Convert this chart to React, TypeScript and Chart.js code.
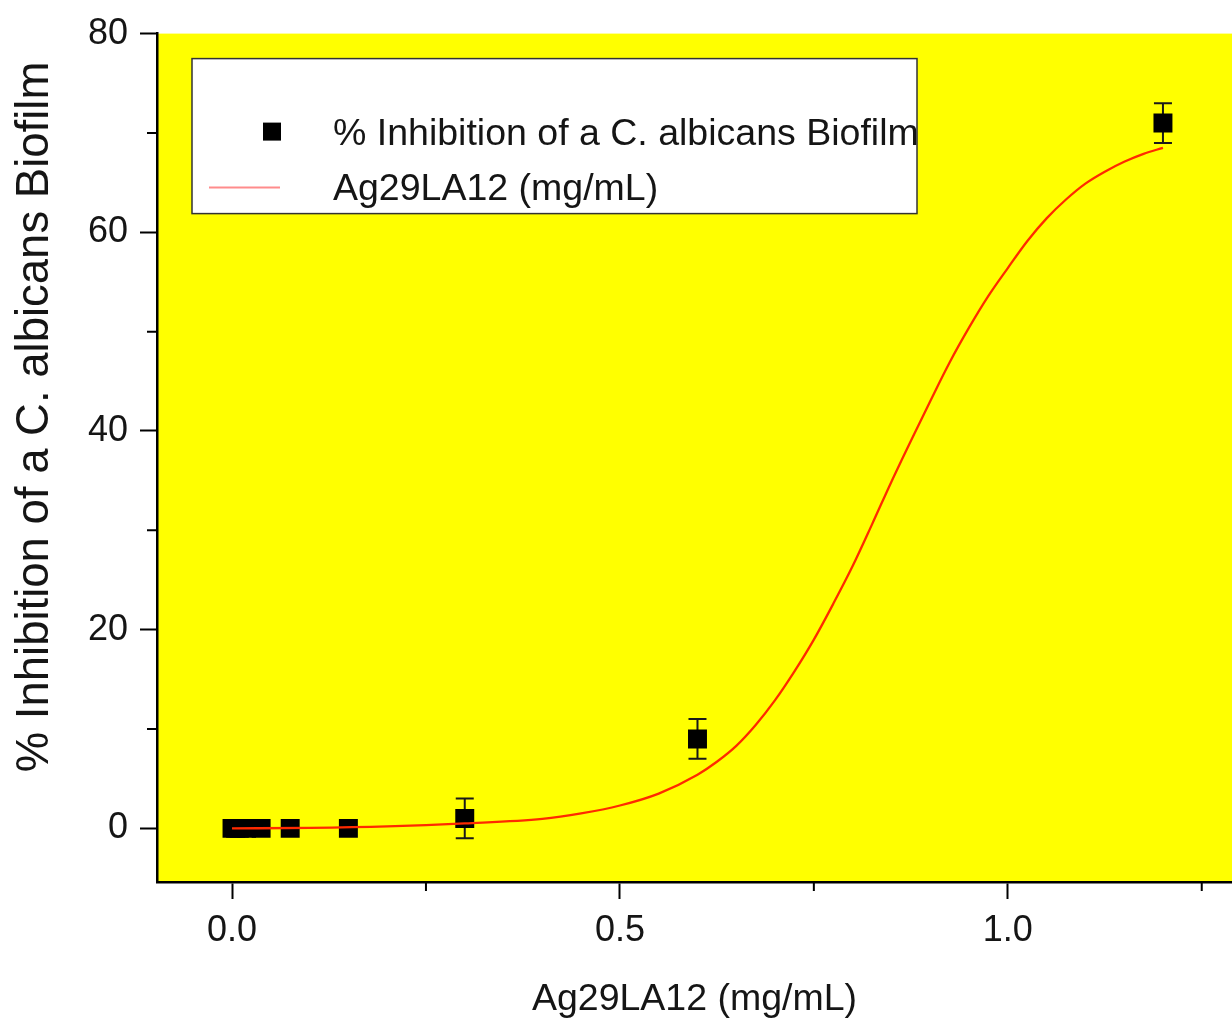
import React, { useEffect, useRef } from 'react';
import { Chart, registerables } from 'chart.js';

Chart.register(...registerables);

// ---- data ----
const concentrations = [0, 0.0046875, 0.009375, 0.01875, 0.0375, 0.075, 0.15, 0.3, 0.6, 1.2];
const inhibition = [0, 0, 0, 0, 0, 0, 0, 1, 9, 71];
const inhibitionError = [0, 0, 0, 0, 0, 0, 0, 2, 2, 2];

const fitX = [0, 0.1, 0.2, 0.3, 0.4, 0.45, 0.5, 0.55, 0.6, 0.625, 0.65, 0.675, 0.7, 0.725, 0.75, 0.775, 0.8, 0.825, 0.85, 0.875, 0.9, 0.925, 0.95, 0.975, 1.0, 1.025, 1.05, 1.075, 1.1, 1.125, 1.15, 1.175, 1.2];
const fitY = [0, 0.05, 0.2, 0.5, 0.95, 1.5, 2.3, 3.5, 5.4, 6.7, 8.3, 10.4, 12.9, 15.8, 19.0, 22.6, 26.4, 30.6, 34.9, 39.0, 43.0, 46.9, 50.4, 53.6, 56.4, 59.1, 61.4, 63.3, 64.9, 66.1, 67.1, 67.9, 68.5];

const scatterLabel = '% Inhibition of a C. albicans Biofilm';
const fitLabel = 'Ag29LA12 (mg/mL)';
const xTitle = 'Ag29LA12 (mg/mL)';
const yTitle = '% Inhibition of a C. albicans Biofilm';

const X_MIN = -0.0967;
const X_MAX = 1.289;
const X_STEP = 0.25;
const X_MAJOR = 0.5;
const Y_MIN = -5.4;
const Y_MAX = 80;
const Y_STEP = 10;
const Y_MAJOR = 20;

const FONT = "'Liberation Sans', Arial, Helvetica, sans-serif";
const TEXT = '#151515';

const isMajor = (v: number, m: number) => Math.abs(v / m - Math.round(v / m)) < 1e-6;

const backgroundPlugin = {
  id: 'yellowBg',
  beforeDraw(chart: any) {
    const { ctx, chartArea: a } = chart;
    ctx.save();
    ctx.fillStyle = '#ffff00';
    ctx.fillRect(a.left, a.top, a.right - a.left, a.bottom - a.top);
    ctx.restore();
  },
};

const errorBarPlugin = {
  id: 'errorBars',
  beforeDatasetsDraw(chart: any) {
    const { ctx } = chart;
    const xs = chart.scales.x;
    const ys = chart.scales.y;
    ctx.save();
    ctx.strokeStyle = '#1a1a1a';
    ctx.lineWidth = 2;
    concentrations.forEach((c, i) => {
      const e = inhibitionError[i];
      if (!e) return;
      const px = xs.getPixelForValue(c);
      const top = ys.getPixelForValue(inhibition[i] + e);
      const bot = ys.getPixelForValue(inhibition[i] - e);
      ctx.beginPath();
      ctx.moveTo(px, top);
      ctx.lineTo(px, bot);
      ctx.moveTo(px - 9, top);
      ctx.lineTo(px + 9, top);
      ctx.moveTo(px - 9, bot);
      ctx.lineTo(px + 9, bot);
      ctx.stroke();
    });
    ctx.restore();
  },
};

const minorTickPlugin = {
  id: 'minorTicks',
  afterDraw(chart: any) {
    const { ctx, chartArea: a } = chart;
    const xs = chart.scales.x;
    const ys = chart.scales.y;
    ctx.save();
    ctx.strokeStyle = '#000';
    ctx.lineWidth = 2;
    ctx.beginPath();
    xs.ticks.forEach((t: any) => {
      if (isMajor(t.value, X_MAJOR)) return;
      const px = xs.getPixelForValue(t.value);
      ctx.moveTo(px, a.bottom);
      ctx.lineTo(px, a.bottom + 9);
    });
    ys.ticks.forEach((t: any) => {
      if (isMajor(t.value, Y_MAJOR)) return;
      const py = ys.getPixelForValue(t.value);
      ctx.moveTo(a.left - 10, py);
      ctx.lineTo(a.left, py);
    });
    ctx.stroke();
    ctx.restore();
  },
};

const yTitlePlugin = {
  id: 'yTitle',
  afterDraw(chart: any) {
    const { ctx } = chart;
    ctx.save();
    ctx.translate(35, 417);
    ctx.rotate(-Math.PI / 2);
    ctx.font = `45.5px ${FONT}`;
    ctx.fillStyle = TEXT;
    ctx.textAlign = 'center';
    ctx.textBaseline = 'middle';
    ctx.fillText(yTitle, 0, 0);
    ctx.restore();
  },
};

const legendPlugin = {
  id: 'boxLegend',
  afterDraw(chart: any) {
    const { ctx, chartArea: a } = chart;
    const ds = chart.data.datasets;
    const left = a.left + 35;
    const top = a.top + 25;
    const w = 725;
    const h = 155;
    ctx.save();
    ctx.fillStyle = '#ffffff';
    ctx.fillRect(left, top, w, h);
    ctx.strokeStyle = '#333';
    ctx.lineWidth = 1.5;
    ctx.strokeRect(left, top, w, h);
    // scatter entry
    ctx.fillStyle = '#000';
    ctx.fillRect(left + 71, top + 64, 18, 18);
    ctx.font = `37.5px ${FONT}`;
    ctx.fillStyle = TEXT;
    ctx.textAlign = 'left';
    ctx.textBaseline = 'middle';
    ctx.fillText(ds[1].label, left + 141, top + 76);
    // line entry
    ctx.strokeStyle = '#ff8c8c';
    ctx.lineWidth = 2;
    ctx.beginPath();
    ctx.moveTo(left + 17, top + 129);
    ctx.lineTo(left + 88, top + 129);
    ctx.stroke();
    ctx.fillText(ds[0].label, left + 141, top + 131);
    ctx.restore();
  },
};

export default function App() {
  const canvasRef = useRef<HTMLCanvasElement | null>(null);

  useEffect(() => {
    if (!canvasRef.current) return;
    const chart = new Chart(canvasRef.current, {
      type: 'scatter',
      data: {
        datasets: [
          {
            type: 'line',
            label: fitLabel,
            data: fitX.map((x, i) => ({ x, y: fitY[i] })),
            borderColor: '#ff2a00',
            borderWidth: 2.3,
            pointRadius: 0,
            fill: false,
            cubicInterpolationMode: 'monotone',
            order: 0,
          } as any,
          {
            type: 'scatter',
            label: scatterLabel,
            data: concentrations.map((x, i) => ({ x, y: inhibition[i] })),
            pointStyle: 'rect',
            pointRadius: 13.4,
            backgroundColor: '#000',
            borderWidth: 0,
            order: 1,
          } as any,
        ],
      },
      options: {
        animation: false,
        responsive: false,
        layout: { autoPadding: false, padding: { top: 32, left: 0, right: 0, bottom: 0 } },
        plugins: { legend: { display: false }, tooltip: { enabled: false } },
        scales: {
          x: {
            type: 'linear',
            min: X_MIN,
            max: X_MAX,
            border: { display: true, color: '#000', width: 2.5 },
            grid: {
              display: true,
              drawOnChartArea: false,
              drawTicks: true,
              tickLength: 17,
              tickWidth: 2,
              tickColor: (c: any) => (c.tick && isMajor(c.tick.value, X_MAJOR) ? '#000' : 'rgba(0,0,0,0)'),
            },
            ticks: {
              stepSize: X_STEP,
              includeBounds: false,
              autoSkip: false,
              maxRotation: 0,
              padding: 10,
              color: TEXT,
              font: { family: FONT, size: 36 },
              callback: (v: any) => (isMajor(Number(v), X_MAJOR) ? Number(v).toFixed(1) : ''),
            },
            title: {
              display: true,
              text: xTitle,
              color: TEXT,
              font: { family: FONT, size: 37.5 },
              padding: { top: 0, bottom: 1 },
            },
            afterFit: (s: any) => {
              s.height = 141;
            },
          },
          y: {
            type: 'linear',
            min: Y_MIN,
            max: Y_MAX,
            border: { display: true, color: '#000', width: 2.5 },
            grid: {
              display: true,
              drawOnChartArea: false,
              drawTicks: true,
              tickLength: 17,
              tickWidth: 2,
              tickColor: (c: any) => (c.tick && isMajor(c.tick.value, Y_MAJOR) ? '#000' : 'rgba(0,0,0,0)'),
            },
            ticks: {
              stepSize: Y_STEP,
              includeBounds: false,
              autoSkip: false,
              padding: 12,
              color: TEXT,
              font: { family: FONT, size: 36 },
              callback: (v: any) => (isMajor(Number(v), Y_MAJOR) ? String(Number(v)) : ''),
            },
            afterFit: (s: any) => {
              s.width = 157;
            },
          },
        },
      } as any,
      plugins: [backgroundPlugin, errorBarPlugin, minorTickPlugin, yTitlePlugin, legendPlugin],
    });
    return () => chart.destroy();
  }, []);

  return (
    <div style={{ position: 'absolute', left: 0, top: 0, width: 1232, height: 1023, background: '#fff', overflow: 'hidden' }}>
      <canvas ref={canvasRef} width={1232} height={1023} style={{ display: 'block' }} />
    </div>
  );
}
